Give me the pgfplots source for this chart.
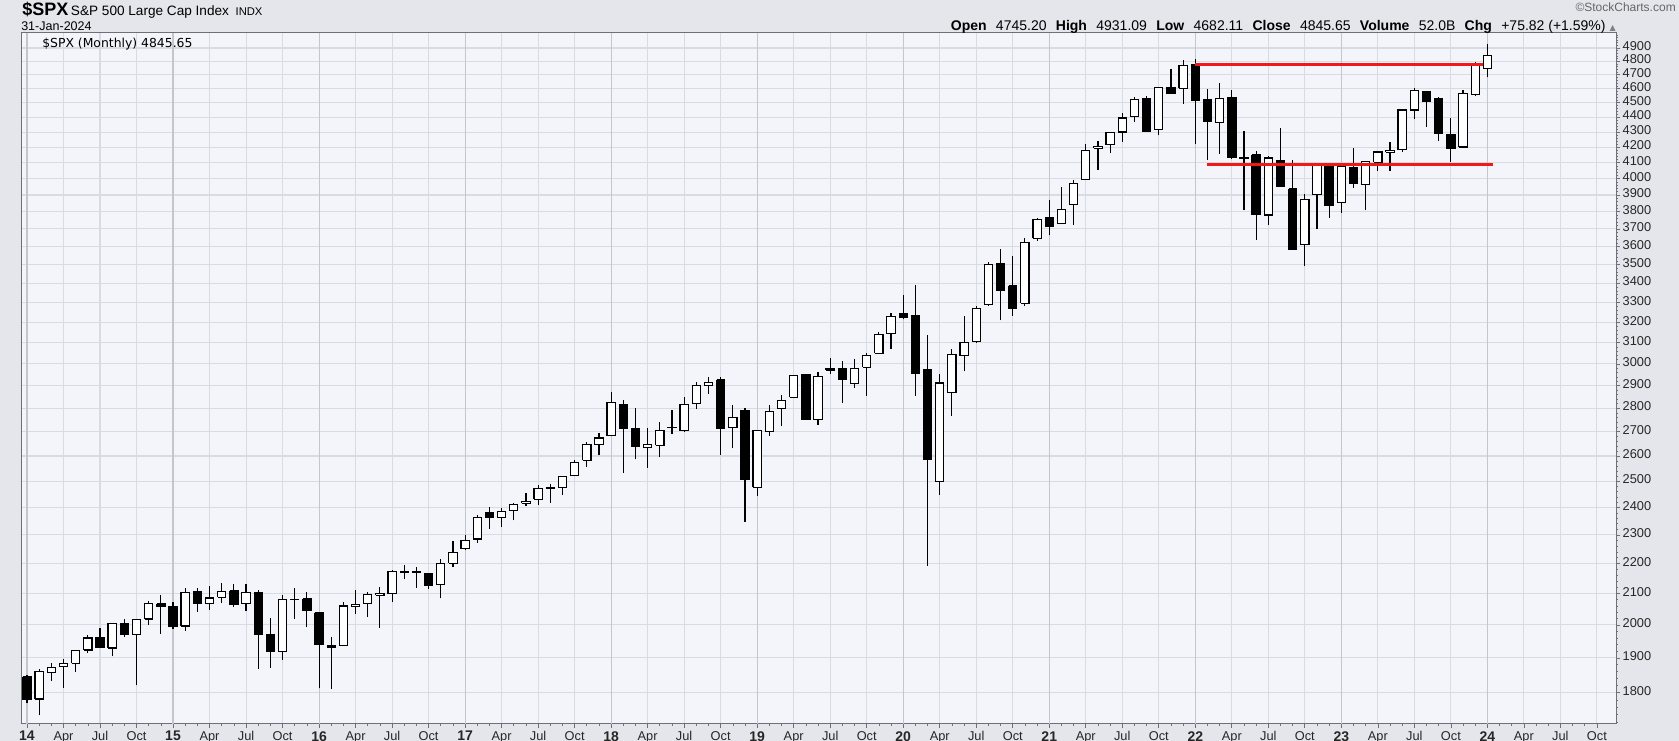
\documentclass[border=0pt]{standalone}
\usepackage{pgfplots}
\pgfplotsset{compat=1.18}
\usepackage{pgfplotstable}
\usepackage{fontspec}
\setmainfont{Liberation Sans}
\newfontfamily\dejavu{DejaVu Sans}
\definecolor{outerbg}{HTML}{E4E6EC}
\definecolor{plotbg}{HTML}{F4F5FA}
\definecolor{gridc}{HTML}{D9DBE2}
\definecolor{yearc}{HTML}{C4C6CD}
\definecolor{framec}{HTML}{6E7078}
\definecolor{redline}{HTML}{F01818}
\newcommand\yr[1]{{\bfseries\fontsize{10.5}{11}\selectfont #1}}
\newcommand\g{\hspace{7pt}}

% S&P 500 monthly candles, month 0 = Jan 2014
\pgfplotstableread{
m o h l c
0 1845.86 1850.84 1770.45 1782.59
1 1782.68 1867.92 1737.92 1859.45
2 1857.68 1883.97 1834.44 1872.34
3 1873.96 1897.28 1814.36 1883.95
4 1884.39 1924.03 1859.79 1923.57
5 1923.87 1968.17 1915.98 1960.23
6 1962.29 1991.39 1930.67 1930.67
7 1929.80 2005.04 1904.78 2003.37
8 2004.07 2019.26 1964.04 1972.29
9 1971.44 2018.05 1820.66 2018.05
10 2018.21 2075.76 2001.01 2067.56
11 2065.78 2093.55 1972.56 2058.90
12 2058.90 2072.36 1988.12 1994.99
13 1996.67 2119.59 1980.90 2104.50
14 2105.23 2117.52 2039.69 2067.89
15 2067.63 2125.92 2048.38 2085.51
16 2087.38 2134.72 2067.93 2107.39
17 2108.64 2129.87 2056.32 2063.11
18 2067.00 2132.82 2044.02 2103.84
19 2104.49 2112.66 1867.01 1972.18
20 1970.09 2020.86 1871.91 1920.03
21 1919.65 2094.32 1893.70 2079.36
22 2080.76 2116.48 2019.39 2080.41
23 2082.93 2104.27 1993.26 2043.94
24 2038.20 2038.20 1812.29 1940.24
25 1936.94 1962.96 1810.10 1932.23
26 1937.09 2072.21 1937.09 2059.74
27 2056.62 2111.05 2033.80 2065.30
28 2067.17 2103.48 2025.91 2096.95
29 2093.94 2120.55 1991.68 2098.86
30 2099.34 2177.09 2074.02 2173.60
31 2173.15 2193.81 2147.58 2170.95
32 2171.33 2187.87 2119.12 2168.27
33 2164.33 2169.60 2114.72 2126.15
34 2128.68 2214.10 2083.79 2198.81
35 2200.17 2277.53 2187.44 2238.83
36 2251.57 2300.99 2245.13 2278.87
37 2285.59 2371.54 2271.65 2363.64
38 2380.13 2400.98 2322.25 2362.72
39 2362.34 2398.16 2328.95 2384.20
40 2388.50 2418.71 2352.72 2411.80
41 2415.65 2453.82 2405.70 2423.41
42 2431.39 2484.04 2407.70 2470.30
43 2477.10 2490.87 2417.35 2471.65
44 2474.42 2519.44 2446.55 2519.36
45 2521.20 2582.98 2520.40 2575.26
46 2583.21 2657.74 2557.45 2647.58
47 2645.10 2694.97 2605.52 2673.61
48 2683.73 2872.87 2682.36 2823.81
49 2816.45 2835.96 2532.69 2713.83
50 2715.22 2801.90 2585.89 2640.87
51 2633.45 2717.49 2553.80 2648.05
52 2642.96 2742.24 2594.62 2705.27
53 2718.70 2791.47 2691.99 2718.37
54 2704.95 2848.03 2698.95 2816.29
55 2821.17 2916.50 2796.34 2901.52
56 2901.61 2940.91 2864.12 2913.98
57 2926.29 2939.86 2603.54 2711.74
58 2717.58 2815.15 2631.09 2760.17
59 2790.50 2800.18 2346.58 2506.85
60 2476.96 2708.95 2443.96 2704.10
61 2702.32 2813.49 2681.83 2784.49
62 2798.22 2860.31 2722.27 2834.40
63 2848.63 2949.52 2848.63 2945.83
64 2952.33 2954.13 2750.52 2752.06
65 2751.53 2964.15 2728.81 2941.76
66 2971.41 3027.98 2952.22 2980.38
67 2980.32 3013.59 2822.12 2926.46
68 2909.01 3021.99 2891.85 2976.74
69 2983.69 3050.10 2855.94 3037.56
70 3050.72 3154.26 3050.72 3140.98
71 3143.85 3247.93 3070.33 3230.78
72 3244.67 3337.77 3214.64 3225.52
73 3235.66 3393.52 2855.84 2954.22
74 2974.28 3136.72 2191.86 2584.59
75 2498.08 2954.86 2447.49 2912.43
76 2869.09 3068.67 2766.64 3044.31
77 3038.78 3233.13 2965.66 3100.29
78 3105.92 3279.99 3101.17 3271.12
79 3288.26 3514.77 3284.53 3500.31
80 3507.44 3588.11 3209.45 3363.00
81 3385.87 3549.85 3233.94 3269.96
82 3296.20 3645.99 3279.74 3621.63
83 3645.87 3760.20 3633.40 3756.07
84 3764.61 3870.90 3662.71 3714.24
85 3731.17 3950.43 3725.62 3811.15
86 3842.51 3994.41 3723.34 3972.89
87 3992.78 4218.78 3992.78 4181.17
88 4191.98 4238.04 4056.88 4204.11
89 4216.52 4302.43 4164.40 4297.50
90 4300.73 4429.97 4233.13 4395.26
91 4406.86 4537.36 4367.73 4522.68
92 4528.80 4545.85 4305.91 4307.54
93 4317.16 4608.08 4278.94 4605.38
94 4610.62 4743.83 4560.00 4567.00
95 4602.82 4808.93 4495.12 4766.18
96 4778.14 4818.62 4222.62 4515.55
97 4519.57 4595.31 4114.65 4373.94
98 4363.14 4637.30 4157.87 4530.41
99 4540.32 4593.45 4124.28 4131.93
100 4130.61 4307.66 3810.32 4132.15
101 4149.78 4177.51 3636.87 3785.38
102 3781.00 4140.15 3721.56 4130.29
103 4112.38 4325.28 3954.53 3955.00
104 3936.73 4119.28 3584.13 3585.62
105 3609.78 3905.42 3491.58 3871.98
106 3901.79 4080.11 3698.15 4080.11
107 4087.14 4100.96 3764.49 3839.50
108 3853.29 4094.21 3794.33 4076.60
109 4070.07 4195.44 3943.08 3970.15
110 3963.34 4110.75 3808.86 4109.31
111 4102.20 4170.06 4049.35 4169.48
112 4166.79 4231.10 4048.28 4179.83
113 4183.03 4458.48 4166.15 4450.38
114 4450.48 4607.07 4385.05 4588.96
115 4578.83 4584.62 4335.31 4507.66
116 4530.60 4541.25 4238.63 4288.05
117 4284.52 4393.57 4103.78 4193.80
118 4201.27 4587.64 4197.74 4567.80
119 4559.43 4793.30 4546.50 4769.83
120 4745.20 4931.09 4682.11 4845.65
}\spx

\begin{document}
\begin{tikzpicture}
\useasboundingbox (0,0) rectangle (1259.25pt,-555.75pt);
\fill[outerbg] (0,0) rectangle (1259.25pt,-555.75pt);
\begin{axis}[
  at={(16.5pt,-24.75pt)}, anchor=north west,
  scale only axis, width=1195.5pt, height=518.25pt,
  xmin=-0.41, xmax=130.57,
  ymode=log, ymin=1715, ymax=5016,
  axis background/.style={fill=plotbg},
  axis line style={draw=framec, line width=0.75pt},
  xtick={0,3,...,129},
  xticklabels={\yr{14},Apr,Jul,Oct,\yr{15},Apr,Jul,Oct,\yr{16},Apr,Jul,Oct,\yr{17},Apr,Jul,Oct,\yr{18},Apr,Jul,Oct,\yr{19},Apr,Jul,Oct,\yr{20},Apr,Jul,Oct,\yr{21},Apr,Jul,Oct,\yr{22},Apr,Jul,Oct,\yr{23},Apr,Jul,Oct,\yr{24},Apr,Jul,Oct},
  minor x tick num=2,
  ytick={1800,1900,2000,2100,2200,2300,2400,2500,2600,2700,2800,2900,3000,3100,3200,3300,3400,3500,3600,3700,3800,3900,4000,4100,4200,4300,4400,4500,4600,4700,4800,4900},
  yticklabels={1800,1900,2000,2100,2200,2300,2400,2500,2600,2700,2800,2900,3000,3100,3200,3300,3400,3500,3600,3700,3800,3900,4000,4100,4200,4300,4400,4500,4600,4700,4800,4900},
  minor ytick={1720,1740,...,5000},
  ytick pos=right, yticklabel pos=right,
  xtick pos=bottom,
  tick align=outside,
  major tick length=3pt, minor tick length=1.5pt,
  tick style={draw=framec, line width=0.5pt},
  grid=major,
  major grid style={draw=gridc, line width=0.8pt},
  extra x ticks={0,12,...,120},
  extra x tick labels={},
  extra x tick style={grid=major, major grid style={draw=yearc, line width=0.85pt}},
  ticklabel style={font=\fontsize{9.6}{10}\selectfont, text=black!85},
  yticklabel style={anchor=west, xshift=-1.5pt},
  xticklabel style={yshift=1pt},
  typeset ticklabels with strut,
]
\pgfplotsforeachungrouped \i in {0,...,120}{%
  \pgfplotstablegetelem{\i}{m}\of\spx \let\M\pgfplotsretval
  \pgfplotstablegetelem{\i}{o}\of\spx \let\O\pgfplotsretval
  \pgfplotstablegetelem{\i}{h}\of\spx \let\H\pgfplotsretval
  \pgfplotstablegetelem{\i}{l}\of\spx \let\L\pgfplotsretval
  \pgfplotstablegetelem{\i}{c}\of\spx \let\C\pgfplotsretval
  \pgfmathsetmacro\XL{\M-0.34}%
  \pgfmathsetmacro\XR{\M+0.34}%
  \ifdim\C pt<\O pt \def\fc{black}\else\def\fc{white}\fi
  \edef\cmd{%
    \noexpand\addplot[black, line width=0.85pt, forget plot] coordinates {(\M,\L) (\M,\H)};
    \noexpand\addplot[draw=black, fill=\fc, line width=0.85pt, forget plot] coordinates {(\XL,\O) (\XR,\O) (\XR,\C) (\XL,\C) (\XL,\O)};
  }\cmd
}
\addplot[redline, line width=1.8pt, forget plot] coordinates {(96,4775) (119.6,4775)};
\addplot[redline, line width=1.8pt, forget plot] coordinates {(97,4090) (120.5,4090)};
\end{axis}
\node[anchor=base west, inner sep=0] at (16.5pt,-11.5pt) {{\bfseries\fontsize{13.5}{14}\selectfont \$SPX}\hspace{2pt}{\fontsize{10.2}{11}\selectfont S\&P 500 Large Cap Index}\hspace{5pt}{\fontsize{8.4}{9}\selectfont INDX}};
\node[anchor=base west, inner sep=0] at (15.75pt,-22.6pt) {\fontsize{9.4}{10}\selectfont 31-Jan-2024};
\node[anchor=base east, inner sep=0] at (1212pt,-22.6pt) {\fontsize{10.5}{11}\selectfont \textbf{Open}\g 4745.20\g\textbf{High}\g 4931.09\g\textbf{Low}\g 4682.11\g\textbf{Close}\g 4845.65\g\textbf{Volume}\g 52.0B\g\textbf{Chg}\g +75.82 (+1.59\%)\hspace{3pt}{\dejavu\color{gray}\fontsize{6}{7}\selectfont ▲}};
\node[anchor=base east, inner sep=0, text=gray!80!black] at (1257pt,-8.5pt) {\fontsize{9}{10}\selectfont ©StockCharts.com};
\node[anchor=west, inner sep=0] at (31.5pt,-33pt) {\dejavu\fontsize{9.3}{10}\selectfont \$SPX (Monthly) 4845.65};
\end{tikzpicture}
\end{document}
